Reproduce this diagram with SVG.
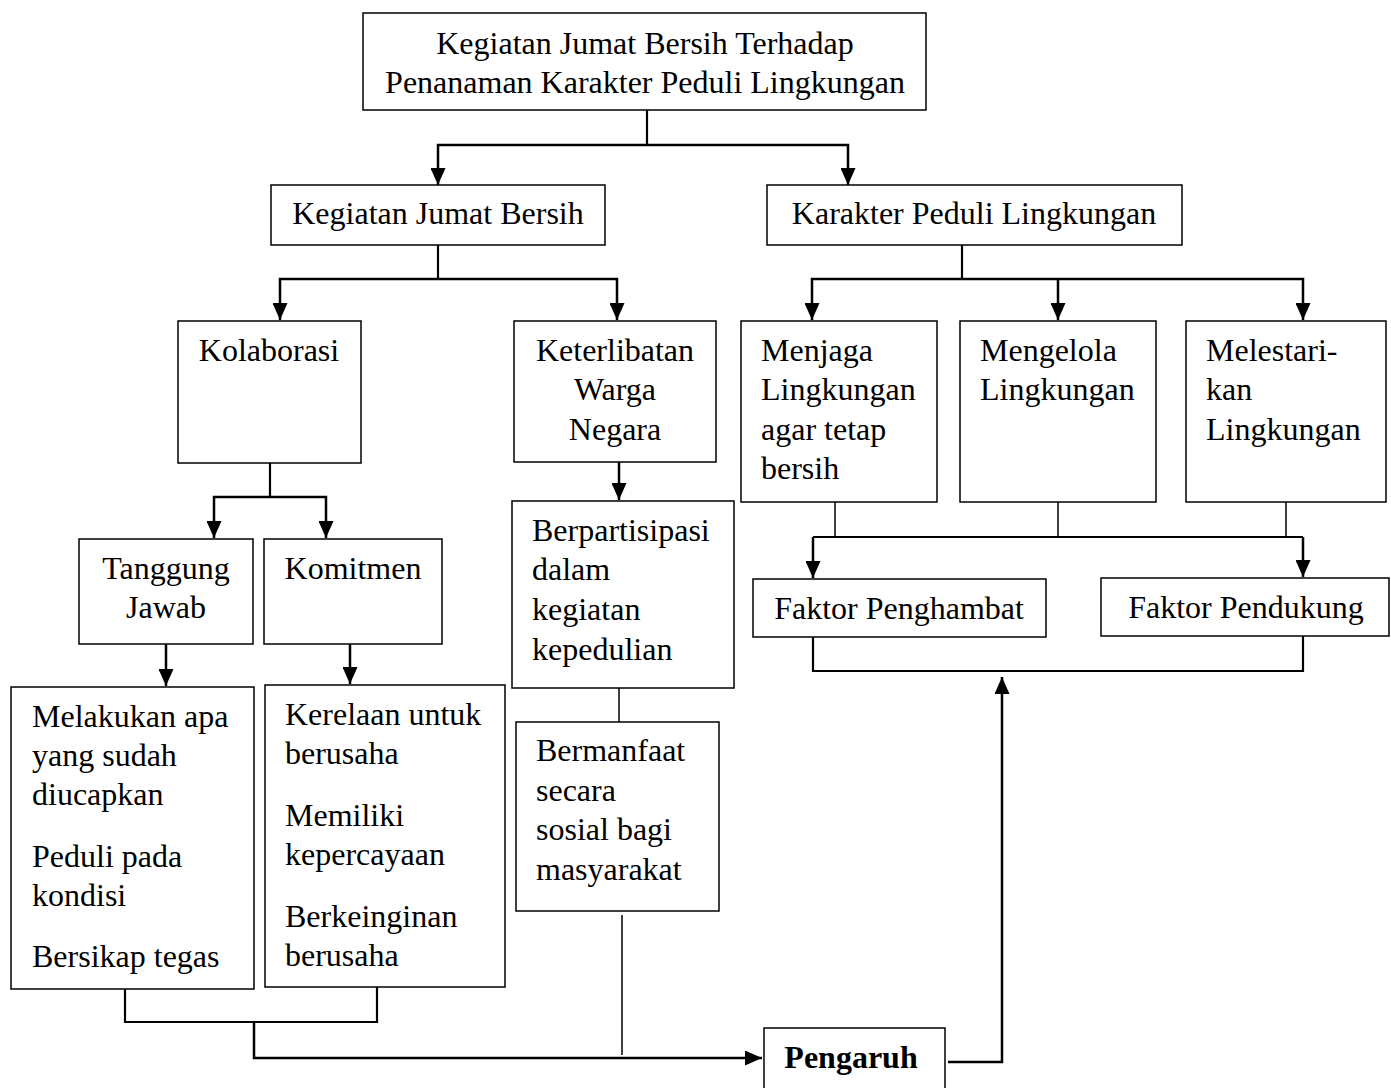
<svg xmlns="http://www.w3.org/2000/svg" width="1391" height="1088" viewBox="0 0 1391 1088">
<style>
.box{fill:#fff;stroke:#000;stroke-width:1.5}
.t{font-family:"Liberation Serif","Times New Roman",serif;font-size:32px;fill:#000}
.c{text-anchor:middle}
.b{font-weight:bold}
.arr{fill:none;stroke:#000;stroke-width:2.5;marker-end:url(#ah)}
.ln{fill:none;stroke:#000;stroke-width:2.2}
.thin{fill:none;stroke:#000;stroke-width:1.5}
</style>
<defs>
<marker id="ah" viewBox="0 0 17 15" refX="17" refY="7.5" markerWidth="17" markerHeight="15" markerUnits="userSpaceOnUse" orient="auto">
<path d="M0,0 L17,7.5 L0,15 z" fill="#000"/>
</marker>
</defs>
<rect width="1391" height="1088" fill="#fff"/>
<g id="connectors">
<path class="ln" d="M647,110 V145"/>
<path class="arr" d="M647,145 H438 V185"/>
<path class="arr" d="M647,145 H848 V185"/>
<path class="ln" d="M438,245 V279"/>
<path class="arr" d="M438,279 H280 V320"/>
<path class="arr" d="M438,279 H617 V320"/>
<path class="ln" d="M962,245 V279"/>
<path class="arr" d="M962,279 H812 V320"/>
<path class="arr" d="M962,279 H1303 V320"/>
<path class="arr" d="M1058,279 V320"/>
<path class="ln" d="M270,463 V497"/>
<path class="arr" d="M270,497 H214 V538"/>
<path class="arr" d="M270,497 H326 V538"/>
<path class="arr" d="M166,644 V686"/>
<path class="arr" d="M350,644 V684"/>
<path class="arr" d="M619,462 V500"/>
<path class="thin" d="M619,688 V722"/>
<path class="thin" d="M835,502 V537"/>
<path class="thin" d="M1058,502 V537"/>
<path class="thin" d="M1286,502 V537"/>
<path class="ln" d="M813,537 H1303"/>
<path class="arr" d="M813,537 V578"/>
<path class="arr" d="M1303,537 V577"/>
<path class="ln" d="M813,637 V671 H1303 V636"/>
<path class="ln" d="M125,989 V1022 H377 V987"/>
<path class="arr" d="M254,1022 V1058 H762"/>
<path class="thin" d="M622,915 V1055"/>
<path class="arr" d="M948,1062 H1002 V677"/>
</g>
<g id="n-top"><rect class="box" x="363" y="13" width="563" height="97"/><text class="t c" x="645" y="54">Kegiatan Jumat Bersih Terhadap</text><text class="t c" x="645" y="93">Penanaman Karakter Peduli Lingkungan</text></g>
<g id="n-kjb"><rect class="box" x="271" y="185" width="334" height="60"/><text class="t c" x="438" y="224">Kegiatan Jumat Bersih</text></g>
<g id="n-kpl"><rect class="box" x="767" y="185" width="415" height="60"/><text class="t c" x="974" y="224">Karakter Peduli Lingkungan</text></g>
<g id="n-kol"><rect class="box" x="178" y="321" width="183" height="142"/><text class="t c" x="269" y="361">Kolaborasi</text></g>
<g id="n-ket"><rect class="box" x="514" y="321" width="202" height="141"/><text class="t c" x="615" y="361">Keterlibatan</text><text class="t c" x="615" y="400">Warga</text><text class="t c" x="615" y="440">Negara</text></g>
<g id="n-menjaga"><rect class="box" x="741" y="321" width="196" height="181"/><text class="t" x="761" y="361">Menjaga</text><text class="t" x="761" y="400">Lingkungan</text><text class="t" x="761" y="440">agar tetap</text><text class="t" x="761" y="479">bersih</text></g>
<g id="n-mengelola"><rect class="box" x="960" y="321" width="196" height="181"/><text class="t" x="980" y="361">Mengelola</text><text class="t" x="980" y="400">Lingkungan</text></g>
<g id="n-melestari"><rect class="box" x="1186" y="321" width="200" height="181"/><text class="t" x="1206" y="361">Melestari-</text><text class="t" x="1206" y="400">kan</text><text class="t" x="1206" y="440">Lingkungan</text></g>
<g id="n-tj"><rect class="box" x="79" y="539" width="174" height="105"/><text class="t c" x="166" y="579">Tanggung</text><text class="t c" x="166" y="618">Jawab</text></g>
<g id="n-kom"><rect class="box" x="264" y="539" width="178" height="105"/><text class="t c" x="353" y="579">Komitmen</text></g>
<g id="n-berp"><rect class="box" x="512" y="501" width="222" height="187"/><text class="t" x="532" y="541">Berpartisipasi</text><text class="t" x="532" y="580">dalam</text><text class="t" x="532" y="620">kegiatan</text><text class="t" x="532" y="660">kepedulian</text></g>
<g id="n-fph"><rect class="box" x="753" y="579" width="293" height="58"/><text class="t c" x="899" y="619">Faktor Penghambat</text></g>
<g id="n-fpd"><rect class="box" x="1101" y="578" width="288" height="58"/><text class="t c" x="1246" y="618">Faktor Pendukung</text></g>
<g id="n-mel"><rect class="box" x="11" y="687" width="243" height="302"/><text class="t" x="32" y="727">Melakukan apa</text><text class="t" x="32" y="766">yang sudah</text><text class="t" x="32" y="805">diucapkan</text><text class="t" x="32" y="867">Peduli pada</text><text class="t" x="32" y="906">kondisi</text><text class="t" x="32" y="967">Bersikap tegas</text></g>
<g id="n-ker"><rect class="box" x="265" y="685" width="240" height="302"/><text class="t" x="285" y="725">Kerelaan untuk</text><text class="t" x="285" y="764">berusaha</text><text class="t" x="285" y="826">Memiliki</text><text class="t" x="285" y="865">kepercayaan</text><text class="t" x="285" y="927">Berkeinginan</text><text class="t" x="285" y="966">berusaha</text></g>
<g id="n-berm"><rect class="box" x="516" y="722" width="203" height="189"/><text class="t" x="536" y="761">Bermanfaat</text><text class="t" x="536" y="801">secara</text><text class="t" x="536" y="840">sosial bagi</text><text class="t" x="536" y="880">masyarakat</text></g>
<g id="n-peng"><rect class="box" x="764" y="1028" width="181" height="80"/><text class="t c b" x="851" y="1068">Pengaruh</text></g>
</svg>
